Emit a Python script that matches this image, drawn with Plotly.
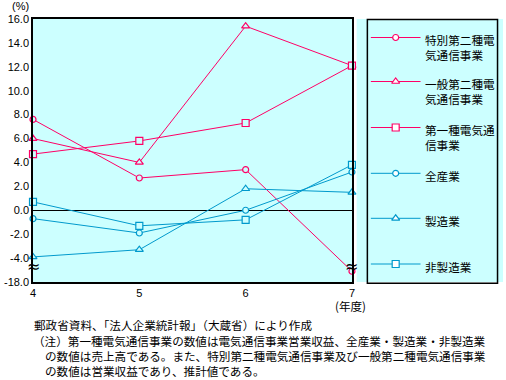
import plotly.graph_objects as go

years = [4, 5, 6, 7]
series_names = ["特別第二種電<br>気通信事業", "一般第二種電<br>気通信事業", "第一種電気通<br>信事業", "全産業", "製造業", "非製造業"]
# values as plotted (axis is broken below -4.0; last point of first series lies in the broken region)
tokubetsu = [7.6, 2.7, 3.4, -5.1]
ippan = [6.0, 4.0, 15.4, 12.1]
daiichi = [4.7, 5.8, 7.3, 12.1]
zensangyo = [-0.7, -1.9, 0.0, 3.2]
seizo = [-3.9, -3.3, 1.8, 1.5]
hiseizo = [0.7, -1.3, -0.8, 3.8]
y_tickvals = [-6, -4, -2, 0, 2, 4, 6, 8, 10, 12, 14, 16]
y_ticktext = ["-18.0", "-4.0", "-2.0", "0.0", "2.0", "4.0", "6.0", "8.0", "10.0", "12.0", "14.0", "16.0"]

PINK = "#FF0066"
BLUE = "#0099CC"
BG = "#CCFFFF"
JP = "Noto Sans CJK JP"
all_series = [tokubetsu, ippan, daiichi, zensangyo, seizo, hiseizo]
colors = [PINK, PINK, PINK, BLUE, BLUE, BLUE]
symbols = ["circle", "triangle-up", "square", "circle", "triangle-up", "square"]
sizes = [6, 7, 7, 6, 7, 7]

W, H = 506, 380
ML, MR, MT, MB = 33, 0, 19, 98
PW = W - ML - MR
PH = H - MT - MB

def px(x):
    return (x - ML) / PW

def py(y):
    return (H - MB - y) / PH

fig = go.Figure()
for vals, c, s, sz in zip(all_series, colors, symbols, sizes):
    fig.add_trace(go.Scatter(
        x=years, y=vals, mode="lines+markers", cliponaxis=False,
        line=dict(color=c, width=1),
        marker=dict(symbol=s, size=sz, color=BG, line=dict(color=c, width=1.2)),
        showlegend=False, hoverinfo="skip"))

# manual legend samples
leg_y = [37.5, 81.5, 127.5, 173.3, 218.3, 264]
for ly, c, s, sz, name in zip(leg_y, colors, symbols, sizes, series_names):
    fig.add_trace(go.Scatter(x=[373, 423], y=[ly, ly], mode="lines", xaxis="x2", yaxis="y2",
                             line=dict(color=c, width=1), showlegend=False, hoverinfo="skip"))
    fig.add_trace(go.Scatter(x=[398], y=[ly], mode="markers", xaxis="x2", yaxis="y2", cliponaxis=False,
                             marker=dict(symbol=s, size=sz, color="white", line=dict(color=c, width=1.2)),
                             showlegend=False, hoverinfo="skip"))
    fig.add_annotation(x=px(425), y=py(ly - 7.5), xref="paper", yref="paper", text=name,
                       showarrow=False, xanchor="left", yanchor="top", align="left",
                       font=dict(family=JP, size=11.6, color="black"))

fig.add_shape(type="rect", xref="paper", yref="paper", x0=px(369.5), x1=px(500.5), y0=py(283.3), y1=py(19.5),
              line=dict(color="black", width=1.5), fillcolor="rgba(0,0,0,0)")

# break marks
for xb in [ML, 354]:
    fig.add_annotation(x=px(xb), y=py(266), xref="paper", yref="paper", text="≈", showarrow=False,
                       font=dict(family="DejaVu Sans", size=16, color="black"), xanchor="center", yanchor="middle")

fig.add_annotation(x=px(20), y=py(6), xref="paper", yref="paper", text="(%)", showarrow=False,
                   font=dict(family="Liberation Sans", size=11, color="black"), xanchor="center", yanchor="middle")
fig.add_annotation(x=px(353), y=py(306), xref="paper", yref="paper", text="(年度)", showarrow=False,
                   font=dict(family=JP, size=11.6, color="black"), xanchor="center", yanchor="middle")

notes = [
    (32, 325, "郵政省資料、「法人企業統計報」（大蔵省）により作成"),
    (31, 341, "（注）第一種電気通信事業の数値は電気通信事業営業収益、全産業・製造業・非製造業"),
    (43, 356, "の数値は売上高である。また、特別第二種電気通信事業及び一般第二種電気通信事業"),
    (43, 371, "の数値は営業収益であり、推計値である。"),
]
for nx, ny, t in notes:
    fig.add_annotation(x=px(nx), y=py(ny), xref="paper", yref="paper", text=t, showarrow=False,
                       xanchor="left", yanchor="middle", font=dict(family=JP, size=11.6, color="black"))

main_right = (354 - ML) / PW
fig.update_layout(
    width=W, height=H, margin=dict(l=ML, r=MR, t=MT, b=MB),
    paper_bgcolor="white", plot_bgcolor=BG,
    xaxis=dict(domain=[0, main_right], range=[4, 7], tickvals=years, ticktext=[str(v) for v in years],
               showline=True, linecolor="black", linewidth=1.5, mirror=True, showgrid=False, zeroline=False,
               ticks="", tickfont=dict(family="Liberation Sans", size=11, color="black")),
    yaxis=dict(range=[-6, 16], tickvals=y_tickvals, ticktext=y_ticktext,
               showline=True, linecolor="black", linewidth=1.5, mirror=True, showgrid=False,
               zeroline=True, zerolinecolor="black", zerolinewidth=1.2,
               ticks="", tickfont=dict(family="Liberation Sans", size=11, color="black")),
    xaxis2=dict(domain=[main_right + 0.01, 1], range=[ML + main_right * PW + 0.01 * PW, W], visible=False, anchor="y2"),
    yaxis2=dict(domain=[0, 1], range=[H - MB, MT], visible=False, anchor="x2"),
)
fig.write_html("out.html", config={"displayModeBar": False},
               post_script="document.body.style.margin='0';document.body.style.overflow='hidden';")
